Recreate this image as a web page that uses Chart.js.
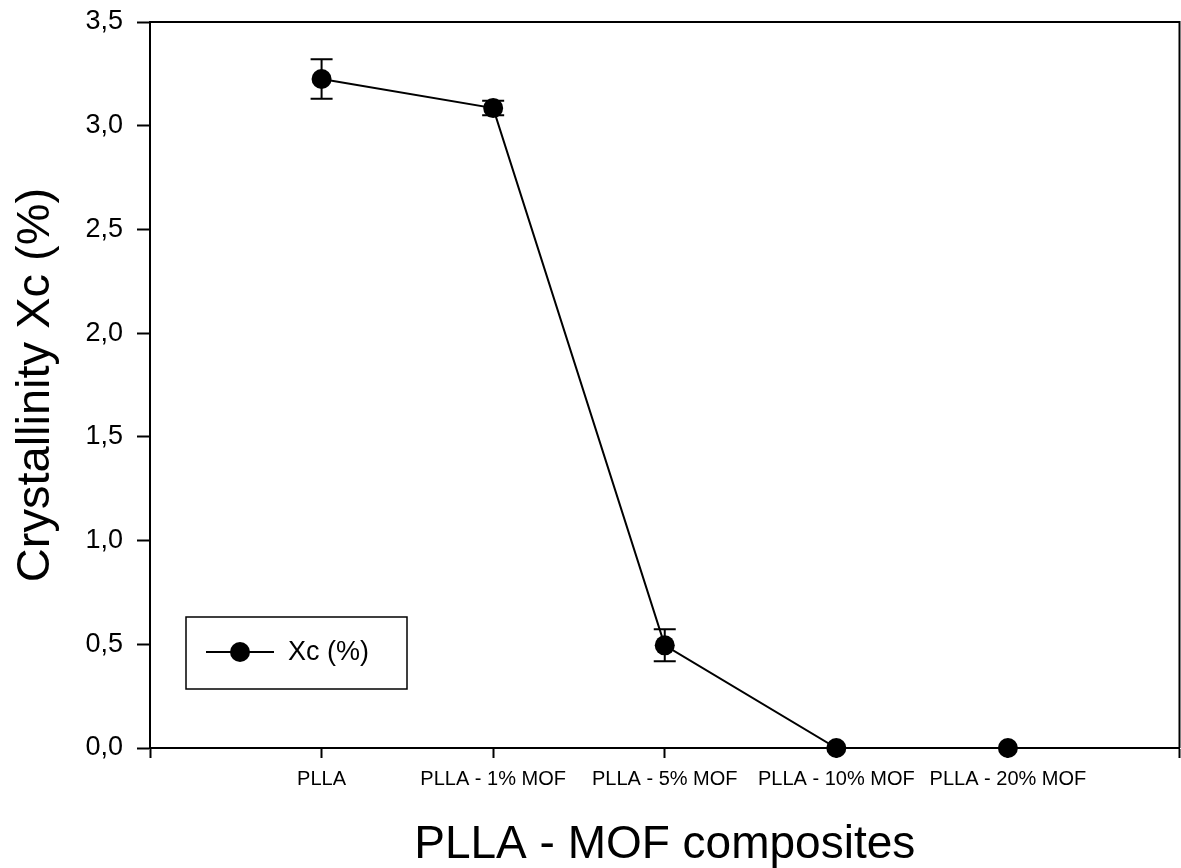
<!DOCTYPE html>
<html>
<head>
<meta charset="utf-8">
<script src="https://cdn.jsdelivr.net/npm/chart.js@4.4.1/dist/chart.umd.min.js"></script>
<style>
  html, body { margin: 0; padding: 0; background: #fff; }
  #wrap { width: 1181px; height: 868px; position: relative; }
</style>
</head>
<body>
<div id="wrap"><canvas id="c" width="1181" height="868"></canvas></div>
<script>
const categories = ['PLLA', 'PLLA - 1% MOF', 'PLLA - 5% MOF', 'PLLA - 10% MOF', 'PLLA - 20% MOF'];
const xcValues = [3.225, 3.085, 0.495, 0.0, 0.0];
const xcErrors = [0.095, 0.035, 0.077, 0.0, 0.0];
const yTicks = [0, 0.5, 1.0, 1.5, 2.0, 2.5, 3.0, 3.5];
const seriesLabel = 'Xc (%)';
const xTitle = 'PLLA - MOF composites';
const yTitle = 'Crystallinity Xc (%)';

const FONT = "'Liberation Sans', Arial, Helvetica, sans-serif";

const points = categories.map((c, i) => ({ x: i + 1, y: xcValues[i] }));

const errorBarPlugin = {
  id: 'errorBars',
  afterDatasetsDraw(chart) {
    const { ctx, scales: { x, y } } = chart;
    ctx.save();
    ctx.strokeStyle = '#000';
    ctx.lineWidth = 2;
    xcValues.forEach((v, i) => {
      const e = xcErrors[i];
      if (!e) return;
      const px = x.getPixelForValue(i + 1);
      const top = y.getPixelForValue(v + e);
      const bot = y.getPixelForValue(v - e);
      const half = 11;
      ctx.beginPath();
      ctx.moveTo(px, top); ctx.lineTo(px, bot);
      ctx.moveTo(px - half, top); ctx.lineTo(px + half, top);
      ctx.moveTo(px - half, bot); ctx.lineTo(px + half, bot);
      ctx.stroke();
    });
    ctx.restore();
  }
};

const framePlugin = {
  id: 'frame',
  afterDraw(chart) {
    const { ctx, chartArea: a } = chart;
    ctx.save();
    ctx.strokeStyle = '#000';
    ctx.lineWidth = 2;
    ctx.beginPath();
    ctx.moveTo(a.left, a.top); ctx.lineTo(a.right, a.top); ctx.lineTo(a.right, a.bottom);
    ctx.stroke();
    ctx.restore();
  }
};

const legendBoxPlugin = {
  id: 'legendBox',
  afterDraw(chart) {
    const { ctx, chartArea: a } = chart;
    const ds = chart.data.datasets[0];
    const bx = a.left + 36, by = a.top + 595, bw = 221, bh = 72;
    ctx.save();
    ctx.fillStyle = '#fff';
    ctx.fillRect(bx, by, bw, bh);
    ctx.strokeStyle = '#000';
    ctx.lineWidth = 1.5;
    ctx.strokeRect(bx, by, bw, bh);
    const cy = by + 35;
    ctx.lineWidth = ds.borderWidth;
    ctx.strokeStyle = ds.borderColor;
    ctx.beginPath();
    ctx.moveTo(bx + 20, cy); ctx.lineTo(bx + 88, cy);
    ctx.stroke();
    ctx.fillStyle = ds.pointBackgroundColor;
    ctx.beginPath();
    ctx.arc(bx + 54, cy, ds.pointRadius, 0, Math.PI * 2);
    ctx.fill();
    ctx.fillStyle = '#000';
    ctx.font = '27px ' + FONT;
    ctx.textBaseline = 'middle';
    ctx.textAlign = 'left';
    ctx.fillText(ds.label, bx + 102, cy + 1);
    ctx.restore();
  }
};

new Chart(document.getElementById('c'), {
  type: 'line',
  data: {
    datasets: [{
      label: seriesLabel,
      data: points,
      borderColor: '#000',
      borderWidth: 2,
      pointRadius: 10,
      pointHoverRadius: 10,
      pointBackgroundColor: '#000',
      pointBorderColor: '#000',
      pointBorderWidth: 0,
      tension: 0,
      clip: false
    }]
  },
  options: {
    responsive: false,
    animation: false,
    devicePixelRatio: 1,
    layout: { autoPadding: false, padding: { top: 22, right: 1.5, left: 0, bottom: 0 } },
    plugins: {
      legend: { display: false },
      tooltip: { enabled: false }
    },
    scales: {
      x: {
        type: 'linear',
        min: 0, max: 6,
        afterBuildTicks(scale) {
          scale.ticks = [0, 1, 2, 3, 4, 5, 6].map(v => ({ value: v }));
        },
        afterFit(scale) {
          scale.height = 120;
          scale.paddingLeft = 0; scale.paddingRight = 0;
          scale.paddingTop = 0; scale.paddingBottom = 0;
        },
        ticks: {
          color: '#000',
          font: { family: FONT, size: 20 },
          padding: 9,
          maxRotation: 0,
          autoSkip: false,
          callback: v => (v >= 1 && v <= categories.length) ? categories[v - 1] : ''
        },
        grid: {
          drawOnChartArea: false,
          drawTicks: true,
          tickLength: 10,
          tickWidth: 2,
          color: '#000'
        },
        border: { display: true, color: '#000', width: 2 },
        title: {
          display: true,
          text: xTitle,
          color: '#000',
          font: { family: FONT, size: 46, lineHeight: 1 },
          padding: { top: 0, bottom: 0 }
        }
      },
      y: {
        type: 'linear',
        min: 0, max: 3.5,
        afterBuildTicks(scale) {
          scale.ticks = yTicks.map(v => ({ value: v }));
        },
        afterFit(scale) {
          scale.width = 150;
          scale.paddingLeft = 0; scale.paddingRight = 0;
          scale.paddingTop = 0; scale.paddingBottom = 0;
        },
        ticks: {
          color: '#000',
          font: { family: FONT, size: 27 },
          padding: 14,
          callback: v => v.toFixed(1).replace('.', ',')
        },
        grid: {
          drawOnChartArea: false,
          drawTicks: true,
          tickLength: 13,
          tickWidth: 2,
          color: '#000'
        },
        border: { display: true, color: '#000', width: 2 },
        title: {
          display: true,
          text: yTitle,
          color: '#000',
          font: { family: FONT, size: 47, lineHeight: 1 },
          padding: { top: 13, bottom: 0 }
        }
      }
    }
  },
  plugins: [errorBarPlugin, framePlugin, legendBoxPlugin]
});
</script>
</body>
</html>
